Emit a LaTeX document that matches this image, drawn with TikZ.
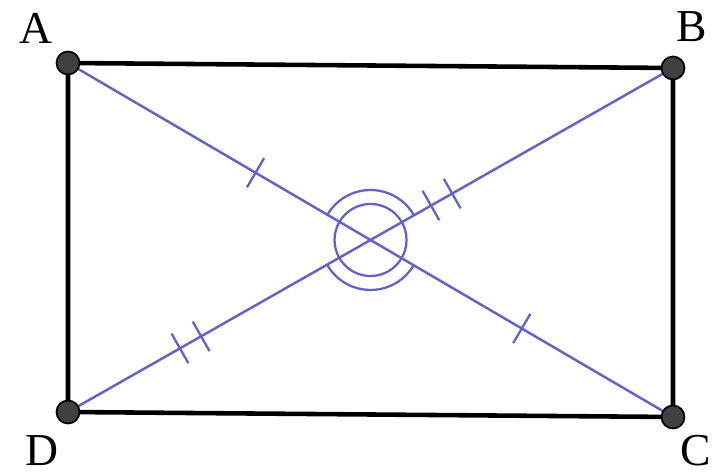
\documentclass[tikz,border=0pt]{standalone}
\usepackage{fontspec}
\setmainfont{Liberation Serif}
\usepackage{tikz}
\usetikzlibrary{positioning}
\definecolor{inkblue}{RGB}{98,98,205}

\begin{document}
\begin{tikzpicture}[
    x=0.02cm, y=0.02cm,
    vertex/.style={circle, draw=black, line width=1pt, fill=black!75, minimum size=0.46cm, inner sep=0pt},
    side/.style={line width=2.6pt, black},
    diag/.style={line width=1.4pt, inkblue},
    tickmark/.style={sloped, draw=inkblue, line width=1.3pt, inner sep=0pt, minimum width=0pt, minimum height=0.68cm},
    anglemark/.style={line width=1.3pt, inkblue},
    lbl/.style={font=\fontsize{26}{30}\selectfont, inner sep=0pt}
]
\useasboundingbox (0,0) rectangle (728,476);

\coordinate (A) at (68,413);
\coordinate (B) at (673,408);
\coordinate (C) at (673,59);
\coordinate (D) at (68,64);
\coordinate (O) at (intersection of A--C and B--D);

% rectangle and diagonals
\draw[side] (A) -- (B) -- (C) -- (D) -- cycle;
\draw[diag] (A) -- (C);
\draw[diag] (B) -- (D);

% equal halves
\path (A) -- (C) node[tickmark, pos=0.31] {} node[tickmark, pos=0.75] {};
\path (B) -- (D) node[tickmark, pos=0.365] {} node[tickmark, pos=0.40] {}
                 node[tickmark, pos=0.78] {} node[tickmark, pos=0.815] {};

% angles at the centre
\draw[anglemark] ([shift={(29.6:36)}]O) arc[start angle=29.6, end angle=149.7, radius=36];
\draw[anglemark] ([shift={(149.7:36)}]O) arc[start angle=149.7, end angle=209.6, radius=36];
\draw[anglemark] ([shift={(209.6:36)}]O) arc[start angle=209.6, end angle=329.7, radius=36];
\draw[anglemark] ([shift={(-30.3:36)}]O) arc[start angle=-30.3, end angle=29.6, radius=36];
\draw[anglemark] ([shift={(29.6:50)}]O) arc[start angle=29.6, end angle=149.7, radius=50];
\draw[anglemark] ([shift={(209.6:50)}]O) arc[start angle=209.6, end angle=329.7, radius=50];

% corners
\node[vertex] (vA) at (A) {};
\node[vertex] (vB) at (B) {};
\node[vertex] (vC) at (C) {};
\node[vertex] (vD) at (D) {};

\node[lbl] (lA) at (36,448) {A};
\node[lbl] (lB) at (692,449) {B};
\node[lbl] (lC) at (696,25) {C};
\node[lbl] (lD) at (42,25) {D};
\end{tikzpicture}
\end{document}
